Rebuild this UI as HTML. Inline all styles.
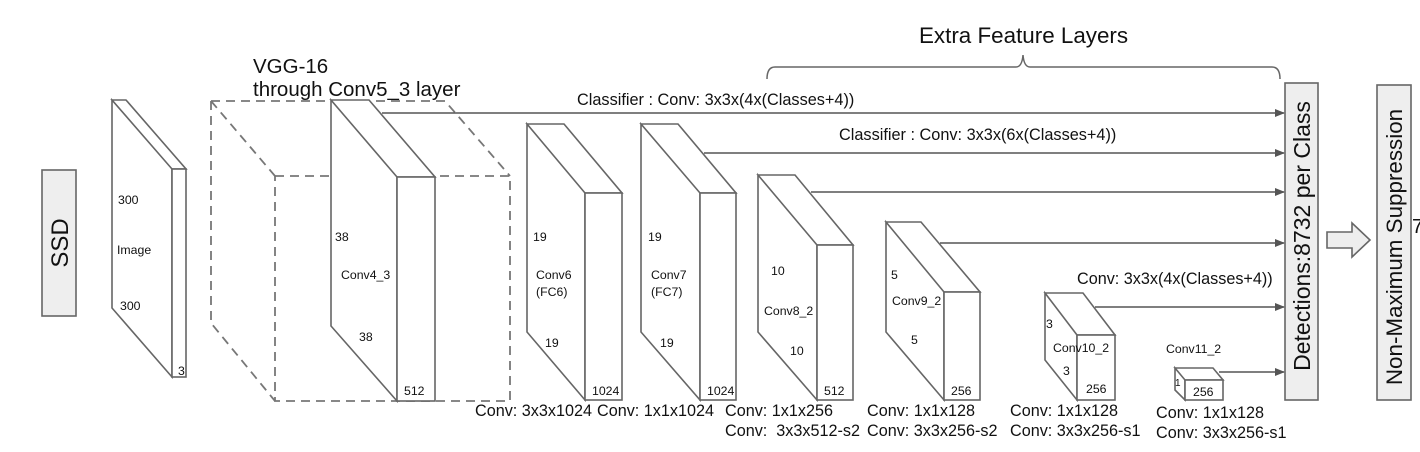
<!DOCTYPE html>
<html><head><meta charset="utf-8"><style>
html,body{margin:0;padding:0;background:#fff;}
svg{display:block;font-family:"Liberation Sans",Arial,sans-serif;}
</style></head><body>
<svg width="1420" height="452" viewBox="0 0 1420 452" xmlns="http://www.w3.org/2000/svg">
<defs><marker id="ah" markerWidth="10" markerHeight="8" refX="9" refY="4" orient="auto" markerUnits="userSpaceOnUse"><path d="M0,0 L10,4 L0,8 z" fill="#555"/></marker></defs>
<g fill="#fff" stroke="#666" stroke-width="1.6">
<rect x="42" y="170" width="34" height="146" fill="#eee"/>
<path d="M112,100 L126,100 L186,169 L172,169 Z M112,100 L112,308 L172,377 L172,169 Z"/>
<rect x="172" y="169" width="14" height="208"/>
</g>
<g fill="none" stroke="#777" stroke-width="1.8" stroke-dasharray="9,6">
<path d="M211,101 L445,101 L510,176 M211,101 L275,176 M211,101 L211,323 L275,401"/>
<rect x="275" y="176" width="235" height="225"/>
</g>
<g fill="#fff" stroke="#666" stroke-width="1.6">
<path d="M331,100 L369,100 L435,177 L397,177 Z M331,100 L331,326 L397,401 L397,177 Z"/>
<rect x="397" y="177" width="38" height="224"/>
<path d="M527,124 L564,124 L622,193 L585,193 Z M527,124 L527,332 L585,400 L585,193 Z"/>
<rect x="585" y="193" width="37" height="207"/>
<path d="M641,124 L678,124 L736,193 L700,193 Z M641,124 L641,332 L700,400 L700,193 Z"/>
<rect x="700" y="193" width="36" height="207"/>
<path d="M758,175 L795,175 L853,245 L817,245 Z M758,175 L758,332 L817,400 L817,245 Z"/>
<rect x="817" y="245" width="36" height="155"/>
<path d="M886,222 L921,222 L980,292 L944,292 Z M886,222 L886,332 L944,400 L944,292 Z"/>
<rect x="944" y="292" width="36" height="108"/>
<path d="M1045,293 L1083,293 L1115,335 L1077,335 Z M1045,293 L1045,360 L1077,400 L1077,335 Z"/>
<rect x="1077" y="335" width="38" height="65"/>
<path d="M1175,368 L1213,368 L1223,380 L1185,380 Z M1175,368 L1175,390 L1185,400 L1185,380 Z"/>
<rect x="1185" y="380" width="38" height="20"/>
<rect x="1285" y="83" width="33" height="317" fill="#eee"/>
<rect x="1377" y="85" width="34" height="315" fill="#eee"/>
<path d="M1327,232 L1352,232 L1352,223 L1370,240 L1352,257 L1352,248 L1327,248 Z" fill="#eee"/>
</g>
<g stroke="#555" stroke-width="1.6" fill="none" marker-end="url(#ah)">
<line x1="382" y1="113" x2="1284" y2="113"/>
<line x1="704" y1="153" x2="1284" y2="153"/>
<line x1="811" y1="192" x2="1284" y2="192"/>
<line x1="940" y1="243" x2="1284" y2="243"/>
<line x1="1095" y1="307" x2="1284" y2="307"/>
<line x1="1219" y1="372" x2="1284" y2="372"/>
</g>
<path d="M767,79 Q767,67 775,67 L1016,67 Q1022,67 1023,55 Q1024,67 1030,67 L1272,67 Q1280,67 1280,79" fill="none" stroke="#666" stroke-width="1.5"/>
<g fill="#111">
<text x="919" y="43" font-size="22.4">Extra Feature Layers</text>
<text x="253" y="73" font-size="20.5">VGG-16</text>
<text x="253" y="96" font-size="20.5">through Conv5_3 layer</text>
<text x="577" y="105" font-size="16.3">Classifier : Conv: 3x3x(4x(Classes+4))</text>
<text x="839" y="140" font-size="16.3">Classifier : Conv: 3x3x(6x(Classes+4))</text>
<text x="1077" y="284" font-size="16.2">Conv: 3x3x(4x(Classes+4))</text>
<text transform="translate(68,243) rotate(-90)" font-size="24" text-anchor="middle">SSD</text>
<text transform="translate(1310,236) rotate(-90)" font-size="23" text-anchor="middle">Detections:8732  per Class</text>
<text transform="translate(1402,247) rotate(-90)" font-size="22.4" text-anchor="middle">Non-Maximum Suppression</text>
<text x="1412" y="233" font-size="20">7</text>
<g font-size="12.3">
<text x="118" y="204">300</text><text x="117" y="254">Image</text><text x="120" y="310">300</text><text x="178" y="375">3</text>
<text x="335" y="241">38</text><text x="341" y="279">Conv4_3</text><text x="359" y="341">38</text><text x="404" y="395">512</text>
<text x="533" y="241">19</text><text x="536" y="279">Conv6</text><text x="536" y="296">(FC6)</text><text x="545" y="347">19</text><text x="592" y="395">1024</text>
<text x="648" y="241">19</text><text x="651" y="279">Conv7</text><text x="651" y="296">(FC7)</text><text x="660" y="347">19</text><text x="707" y="395">1024</text>
<text x="771" y="275">10</text><text x="764" y="315">Conv8_2</text><text x="790" y="355">10</text><text x="824" y="395">512</text>
<text x="891" y="279">5</text><text x="892" y="305">Conv9_2</text><text x="911" y="344">5</text><text x="951" y="395">256</text>
<text x="1046" y="328">3</text><text x="1053" y="352">Conv10_2</text><text x="1063" y="375">3</text><text x="1086" y="393">256</text>
<text x="1166" y="353">Conv11_2</text><text x="1175" y="386" font-size="10">1</text><text x="1193" y="396">256</text>
</g>
<g font-size="16.2">
<text x="475" y="416">Conv: 3x3x1024</text>
<text x="597" y="416">Conv: 1x1x1024</text>
<text x="725" y="416">Conv: 1x1x256</text>
<text x="725" y="436" xml:space="preserve">Conv:  3x3x512-s2</text>
<text x="867" y="416">Conv: 1x1x128</text>
<text x="867" y="436">Conv: 3x3x256-s2</text>
<text x="1010" y="416">Conv: 1x1x128</text>
<text x="1010" y="436">Conv: 3x3x256-s1</text>
<text x="1156" y="418">Conv: 1x1x128</text>
<text x="1156" y="438">Conv: 3x3x256-s1</text>
</g>
</g>
</svg>
</body></html>
